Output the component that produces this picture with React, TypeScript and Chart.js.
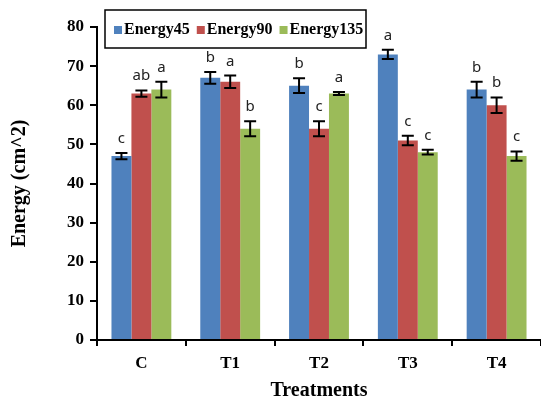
import React, { useEffect, useRef } from "react";
import { Chart, registerables } from "chart.js";

Chart.register(...registerables);

const categories = ["C", "T1", "T2", "T3", "T4"];
const seriesNames = ["Energy45", "Energy90", "Energy135"];
const energy45 = [47, 67, 65, 73, 64];
const energy90 = [63, 66, 54, 51, 60];
const energy135 = [64, 54, 63, 48, 47];
const err45 = [0.8, 1.5, 1.9, 1.2, 2.0];
const err90 = [0.8, 1.6, 1.9, 1.2, 2.0];
const err135 = [2.0, 1.9, 0.4, 0.6, 1.2];
const letters45 = ["c", "b", "b", "a", "b"];
const letters90 = ["ab", "a", "c", "c", "b"];
const letters135 = ["a", "b", "a", "c", "c"];
const colors = ["#4F81BD", "#C0504D", "#9BBB59"];

const seriesValues = [energy45, energy90, energy135];
const seriesErrors = [err45, err90, err135];
const seriesLetters = [letters45, letters90, letters135];

const SERIF = "'Liberation Serif', 'Times New Roman', serif";

const errorBarPlugin = {
  id: "errorBars",
  afterDatasetsDraw(chart: any) {
    const ctx = chart.ctx;
    const y = chart.scales.y;
    ctx.save();
    chart.data.datasets.forEach((ds: any, di: number) => {
      const meta = chart.getDatasetMeta(di);
      meta.data.forEach((bar: any, i: number) => {
        const v = seriesValues[di][i];
        const e = seriesErrors[di][i];
        const yTop = y.getPixelForValue(v + e);
        const yBot = y.getPixelForValue(v - e);
        const x = bar.x;
        const cap = 6;
        ctx.strokeStyle = "#000";
        ctx.lineWidth = 2;
        ctx.beginPath();
        ctx.moveTo(x, yTop);
        ctx.lineTo(x, yBot);
        ctx.moveTo(x - cap, yTop);
        ctx.lineTo(x + cap, yTop);
        ctx.moveTo(x - cap, yBot);
        ctx.lineTo(x + cap, yBot);
        ctx.stroke();
        ctx.fillStyle = "#222";
        ctx.font = "15px 'Noto Sans', 'Liberation Sans', sans-serif";
        ctx.textAlign = "center";
        ctx.textBaseline = "alphabetic";
        ctx.fillText(seriesLetters[di][i], x, yTop - 10);
      });
    });
    ctx.restore();
  },
};

const legendPlugin = {
  id: "boxLegend",
  afterDraw(chart: any) {
    const ctx = chart.ctx;
    const left = 105;
    const top = 10;
    const w = 261;
    const h = 38;
    ctx.save();
    ctx.fillStyle = "#fff";
    ctx.fillRect(left, top, w, h);
    ctx.strokeStyle = "#000";
    ctx.lineWidth = 1.5;
    ctx.strokeRect(left, top, w, h);
    ctx.font = "bold 16px " + SERIF;
    ctx.textBaseline = "middle";
    ctx.textAlign = "left";
    let x = left + 9;
    const cy = top + h / 2 + 1;
    seriesNames.forEach((name, i) => {
      ctx.fillStyle = colors[i];
      ctx.fillRect(x, cy - 4, 8, 8);
      x += 10;
      ctx.fillStyle = "#000";
      ctx.fillText(name, x, cy);
      x += ctx.measureText(name).width + 7;
    });
    ctx.restore();
  },
};

export default function App() {
  const ref = useRef<HTMLCanvasElement | null>(null);
  useEffect(() => {
    if (!ref.current) return;
    const chart = new Chart(ref.current, {
      type: "bar",
      data: {
        labels: categories,
        datasets: seriesNames.map((name, i) => ({
          label: name,
          data: seriesValues[i],
          backgroundColor: colors[i],
          borderWidth: 0,
          categoryPercentage: 0.674,
          barPercentage: 1.0,
        })),
      },
      options: {
        responsive: false,
        animation: false,
        devicePixelRatio: 1,
        layout: { padding: { top: 27, right: 0, left: 0, bottom: 0 } },
        plugins: { legend: { display: false }, tooltip: { enabled: false } },
        scales: {
          x: {
            grid: {
              display: true,
              drawOnChartArea: false,
              drawTicks: true,
              tickLength: 6,
              color: "#000",
              lineWidth: 2,
            },
            border: { display: true, color: "#000", width: 2 },
            ticks: { color: "#000", font: { family: SERIF, size: 17, weight: "bold" }, padding: 7 },
            title: {
              display: true,
              text: "Treatments",
              color: "#000",
              font: { family: SERIF, size: 20, weight: "bold" },
              padding: { top: 0, bottom: 0 },
            },
            afterFit(scale: any) {
              scale.height = 63;
            },
          },
          y: {
            min: 0,
            max: 80,
            ticks: { stepSize: 10, color: "#000", font: { family: SERIF, size: 17, weight: "bold" }, padding: 6 },
            grid: {
              display: true,
              drawOnChartArea: false,
              drawTicks: true,
              tickLength: 7,
              color: "#000",
              lineWidth: 2,
            },
            border: { display: true, color: "#000", width: 2 },
            title: {
              display: true,
              text: "Energy (cm^2)",
              color: "#000",
              font: { family: SERIF, size: 20, weight: "bold" },
              padding: { top: 8, bottom: 4 },
            },
            afterFit(scale: any) {
              scale.width = 97;
            },
          },
        },
      },
      plugins: [errorBarPlugin, legendPlugin],
    } as any);
    return () => chart.destroy();
  }, []);
  return (
    <div style={{ position: "absolute", left: 0, top: 0, width: 541, height: 403, background: "#fff" }}>
      <canvas ref={ref} width={541} height={403} />
    </div>
  );
}
